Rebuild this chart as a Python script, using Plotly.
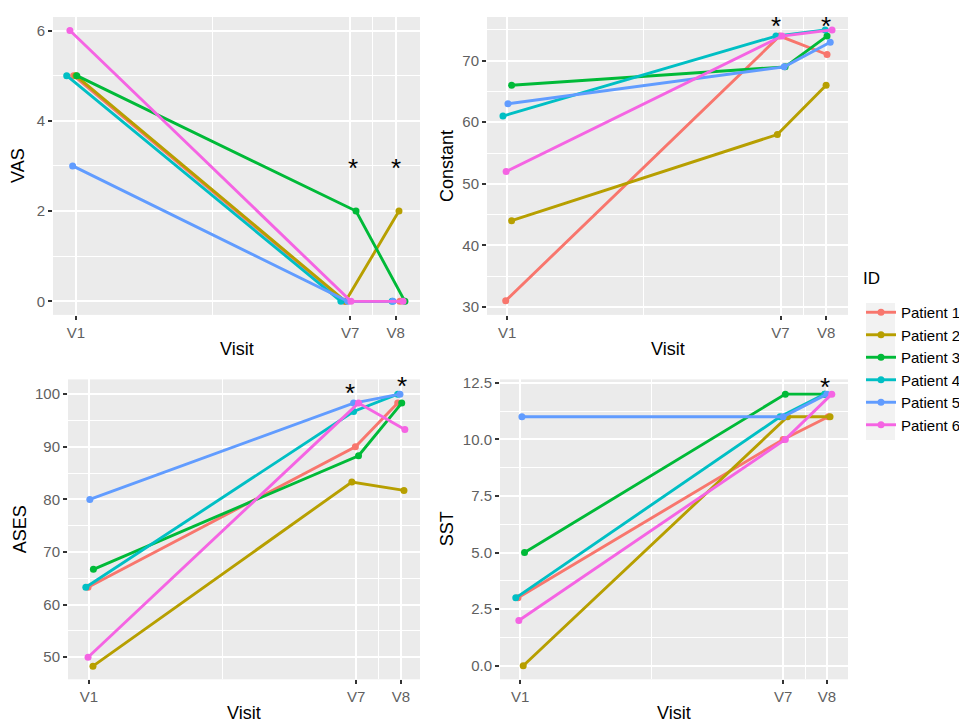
import plotly.graph_objects as go

# ---------------- data ----------------
visits = [1, 7, 8]
visit_labels = ["V1", "V7", "V8"]
patients = ["Patient 1", "Patient 2", "Patient 3", "Patient 4", "Patient 5", "Patient 6"]
colors = ["#F8766D", "#B79F00", "#00BA38", "#00BFC4", "#619CFF", "#F564E3"]

vas = [[5, 0, 0], [5, 0, 2], [5, 2, 0], [5, 0, 0], [3, 0, 0], [6, 0, 0]]
constant = [[31, 74, 71], [44, 58, 66], [66, 69, 74], [61, 74, 75], [63, 69, 73], [52, 74, 75]]
ases = [[63.3, 90, 98.3], [48.3, 83.3, 81.7], [66.7, 88.3, 98.3],
        [63.3, 96.7, 100], [80, 98.3, 100], [50, 98.3, 93.3]]
sst = [[3, 10, 11], [0, 11, 11], [5, 12, 12], [3, 11, 12], [11, 11, 12], [2, 10, 12]]

# horizontal jitter of each point (visit units)
jit_vas = [[-0.05, -0.12, 0.09], [0.0, -0.1, 0.07], [0.02, 0.13, 0.2],
           [-0.2, -0.2, -0.08], [-0.07, -0.05, -0.06], [-0.13, 0.02, 0.16]]
jit_constant = [[-0.03, -0.02, 0.02], [0.1, -0.07, 0.0], [0.1, 0.1, 0.02],
                [-0.09, -0.1, -0.02], [0.02, 0.08, 0.09], [-0.02, 0.03, 0.13]]
jit_ases = [[-0.02, -0.02, -0.07], [0.09, -0.1, 0.07], [0.1, 0.05, 0.02],
            [-0.07, -0.06, -0.07], [0.02, -0.06, -0.02], [-0.02, 0.05, 0.09]]
jit_sst = [[-0.05, 0.0, 0.03], [0.07, 0.1, 0.07], [0.1, 0.05, -0.05],
           [-0.1, -0.07, -0.05], [0.04, 0.0, 0.0], [-0.03, 0.05, 0.11]]

# significance stars: (visit, value)
stars_vas = [(7.07, 3.0), (8.0, 3.0)]
stars_constant = [(6.9, 76.0), (8.0, 76.0)]
stars_ases = [(6.87, 100.6), (8.02, 101.9)]
stars_sst = [(7.95, 12.4)]

panels = [
    dict(name="VAS", data=vas, jit=jit_vas, stars=stars_vas,
         xr=[0.5, 8.53], yr=[-0.3, 6.3],
         yt=[0, 2, 4, 6], ytl=["0", "2", "4", "6"], ym=[1, 3, 5],
         dx=[53, 420], dy=[12, 312]),
    dict(name="Constant", data=constant, jit=jit_constant, stars=stars_constant,
         xr=[0.56, 8.48], yr=[28.7, 77.1],
         yt=[30, 40, 50, 60, 70], ytl=["30", "40", "50", "60", "70"], ym=[35, 45, 55, 65, 75],
         dx=[487, 848], dy=[12, 312]),
    dict(name="ASES", data=ases, jit=jit_ases, stars=stars_ases,
         xr=[0.53, 8.43], yr=[45.8, 102.8],
         yt=[50, 60, 70, 80, 90, 100], ytl=["50", "60", "70", "80", "90", "100"],
         ym=[55, 65, 75, 85, 95],
         dx=[68, 420], dy=[377, 679]),
    dict(name="SST", data=sst, jit=jit_sst, stars=stars_sst,
         xr=[0.54, 8.48], yr=[-0.6, 12.65],
         yt=[0, 2.5, 5, 7.5, 10, 12.5], ytl=["0.0", "2.5", "5.0", "7.5", "10.0", "12.5"],
         ym=[1.25, 3.75, 6.25, 8.75, 11.25],
         dx=[500, 848], dy=[377, 679]),
]

# page is offset by the browser's default body margin
OX, OY = 8, 8
W, H = 967 - OX, 723 - OY


def px(X):
    return (X - OX) / W


def py(Y):
    return 1 - (Y - OY) / H


FONT = "Liberation Sans, Arial, sans-serif"
TICKCOL = "#5f5f5f"

fig = go.Figure()
annotations = []
layout_axes = {}

for k, p in enumerate(panels):
    i = k + 1
    xa = "x" if i == 1 else f"x{i}"
    ya = "y" if i == 1 else f"y{i}"
    for j, pat in enumerate(patients):
        xs = [v + d for v, d in zip(visits, p["jit"][j])]
        fig.add_trace(go.Scatter(
            x=xs, y=p["data"][j], mode="lines+markers", name=pat,
            legendgroup=pat, showlegend=(k == 0),
            line=dict(color=colors[j], width=2.9),
            marker=dict(color=colors[j], size=7),
            xaxis=xa, yaxis=ya, hoverinfo="skip",
        ))
    x0, x1 = px(p["dx"][0]), px(p["dx"][1])
    y0, y1 = py(p["dy"][1]), py(p["dy"][0])
    layout_axes[f"xaxis{'' if i == 1 else i}"] = dict(
        domain=[x0, x1], range=p["xr"], anchor=ya,
        tickvals=visits, ticktext=visit_labels,
        showgrid=True, gridcolor="white", gridwidth=1.6, zeroline=False,
        ticks="outside", ticklen=4, tickwidth=2, tickcolor="#333333",
        tickfont=dict(family=FONT, size=15, color=TICKCOL),
        minor=dict(tickvals=[4, 7.5], showgrid=True, gridcolor="white", gridwidth=0.8, ticklen=0),
        showline=False, fixedrange=True,
    )
    layout_axes[f"yaxis{'' if i == 1 else i}"] = dict(
        domain=[y0, y1], range=p["yr"], anchor=xa,
        tickvals=p["yt"], ticktext=p["ytl"],
        showgrid=True, gridcolor="white", gridwidth=1.6, zeroline=False,
        ticks="outside", ticklen=4, tickwidth=2, tickcolor="#333333",
        tickfont=dict(family=FONT, size=15, color=TICKCOL),
        minor=dict(tickvals=p["ym"], showgrid=True, gridcolor="white", gridwidth=0.8, ticklen=0),
        showline=False, fixedrange=True,
    )
    # axis titles
    xc = (x0 + x1) / 2
    annotations.append(dict(
        text="Visit", xref="paper", yref="paper", x=xc,
        y=py(346 if k < 2 else 713), xanchor="center", yanchor="middle",
        showarrow=False, font=dict(family=FONT, size=18, color="black")))
    annotations.append(dict(
        text=p["name"], xref="paper", yref="paper",
        x=px(18 if k % 2 == 0 else 447) + (0.002 if k == 2 else 0),
        y=(y0 + y1) / 2, textangle=-90, xanchor="center", yanchor="middle",
        showarrow=False, font=dict(family=FONT, size=18, color="black")))
    for sx, sy in p["stars"]:
        annotations.append(dict(
            text="*", xref=xa, yref=ya, x=sx, y=sy, xanchor="center", yanchor="middle",
            yshift=-2, showarrow=False, font=dict(family=FONT, size=26, color="black")))

# legend title
annotations.append(dict(
    text="ID", xref="paper", yref="paper", x=px(861), y=py(275),
    xanchor="left", yanchor="middle", showarrow=False,
    font=dict(family=FONT, size=17, color="black")))

fig.update_layout(
    width=W, height=H,
    margin=dict(l=0, r=0, t=0, b=0),
    paper_bgcolor="white", plot_bgcolor="#EBEBEB",
    font=dict(family=FONT),
    showlegend=True,
    legend=dict(
        font=dict(family=FONT, size=15, color="black"),
        x=px(861), y=py(293), xanchor="left", yanchor="top",
        bgcolor="rgba(0,0,0,0)", tracegroupgap=0, itemwidth=30,
    ),
    shapes=[dict(type="rect", xref="paper", yref="paper",
                 x0=px(866), x1=px(895), y0=py(438), y1=py(300),
                 fillcolor="#F2F2F2", line=dict(width=0), layer="below")],
    annotations=annotations,
    **layout_axes,
)

fig.write_html("out.html")
